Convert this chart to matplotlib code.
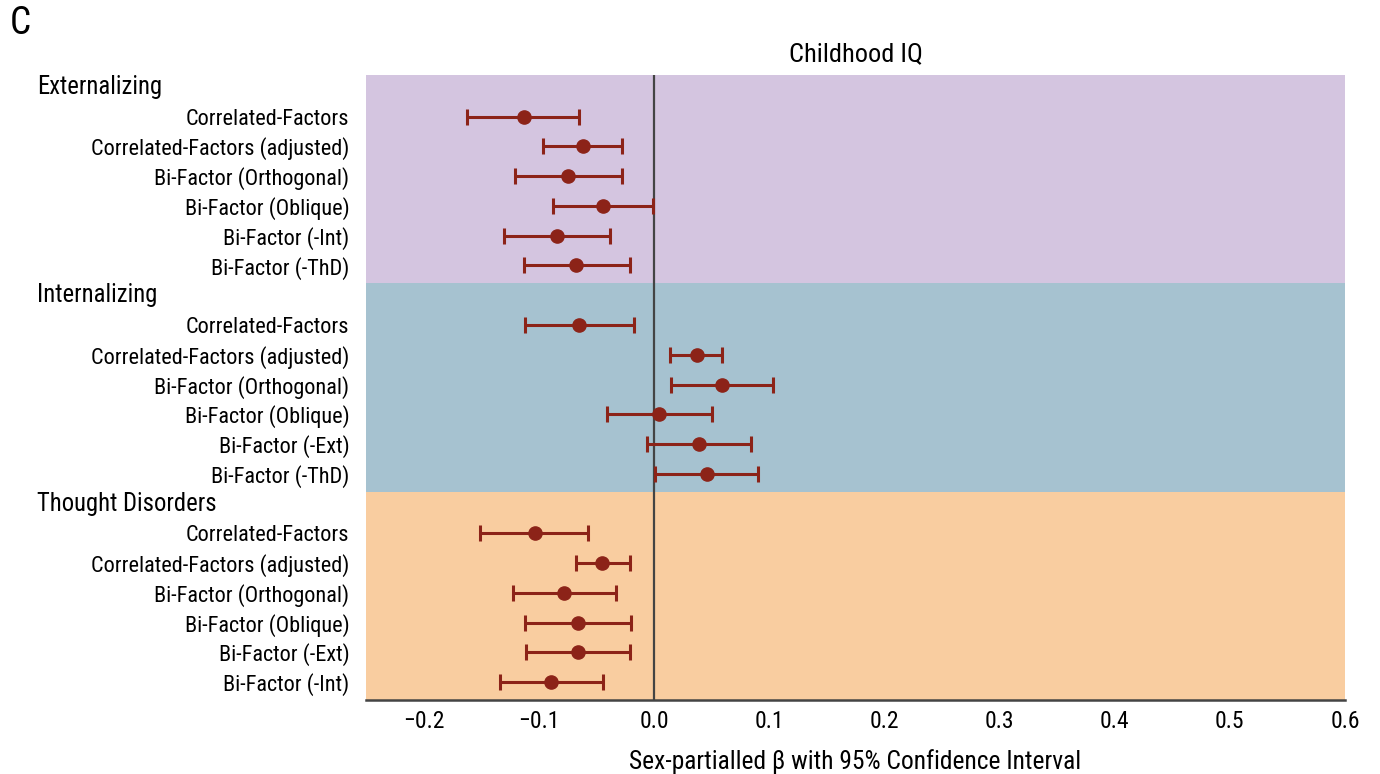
import matplotlib
matplotlib.use("Agg")
import matplotlib.pyplot as plt
import matplotlib.transforms as mtrans
import numpy as np

groups = ["Externalizing", "Internalizing", "Thought Disorders"]
group_colors = ["#D4C5E0", "#A6C2D0", "#F9CDA0"]
row_labels = [
    ["Correlated-Factors", "Correlated-Factors (adjusted)", "Bi-Factor (Orthogonal)",
     "Bi-Factor (Oblique)", "Bi-Factor (-Int)", "Bi-Factor (-ThD)"],
    ["Correlated-Factors", "Correlated-Factors (adjusted)", "Bi-Factor (Orthogonal)",
     "Bi-Factor (Oblique)", "Bi-Factor (-Ext)", "Bi-Factor (-ThD)"],
    ["Correlated-Factors", "Correlated-Factors (adjusted)", "Bi-Factor (Orthogonal)",
     "Bi-Factor (Oblique)", "Bi-Factor (-Ext)", "Bi-Factor (-Int)"],
]
est = [
    [-0.113, -0.062, -0.075, -0.044, -0.084, -0.068],
    [-0.065, 0.037, 0.059, 0.004, 0.039, 0.046],
    [-0.103, -0.045, -0.078, -0.066, -0.066, -0.089],
]
lower = [
    [-0.162, -0.096, -0.121, -0.088, -0.130, -0.113],
    [-0.112, 0.014, 0.015, -0.041, -0.006, 0.001],
    [-0.151, -0.068, -0.122, -0.112, -0.111, -0.134],
]
upper = [
    [-0.065, -0.028, -0.028, -0.001, -0.038, -0.021],
    [-0.017, 0.059, 0.103, 0.050, 0.084, 0.090],
    [-0.057, -0.021, -0.033, -0.020, -0.021, -0.044],
]
xticks = [-0.2, -0.1, 0.0, 0.1, 0.2, 0.3, 0.4, 0.5, 0.6]

FONT = ["Roboto Condensed", "Archivo Narrow", "DejaVu Sans"]
plt.rcParams["font.family"] = FONT

fig = plt.figure(figsize=(13.8, 7.74), dpi=100)
ax = fig.add_axes([366 / 1380, 1 - 700 / 774, (1345 - 366) / 1380, (700 - 75) / 774])

G = 7
red = "#8C2318"
for g in range(3):
    base = g * G
    ax.axhspan(base - 0.4, base + 6.6, color=group_colors[g], zorder=0, lw=0)
    ys = base + np.arange(1, 7)
    e = np.array(est[g]); lo = np.array(lower[g]); hi = np.array(upper[g])
    ax.errorbar(e, ys, xerr=[e - lo, hi - e], fmt="o", color=red, ecolor=red,
                elinewidth=2.2, capsize=5.5, capthick=2.2, markersize=9.5, zorder=3)

ax.axvline(0, color="#444444", lw=1.6, zorder=2)
ax.set_xlim(-0.25, 0.6)
ax.set_ylim(20.6, -0.4)

ax.set_xticks(xticks)
ax.set_xticklabels([("\u2212" if t < 0 else "") + f"{abs(t):.1f}" for t in xticks], fontsize=17)
ax.tick_params(axis="x", length=0, pad=7)

yt = []; ytl = []
for g in range(3):
    for r in range(6):
        yt.append(g * G + r + 1); ytl.append(row_labels[g][r])
ax.set_yticks(yt)
ax.set_yticklabels(ytl, fontsize=16)
ax.tick_params(axis="y", length=0, pad=12)

for s in ["top", "right", "left"]:
    ax.spines[s].set_visible(False)
ax.spines["bottom"].set_color("#444444")
ax.spines["bottom"].set_linewidth(1.8)

hdr_tr = mtrans.blended_transform_factory(fig.transFigure, ax.transData)
for g in range(3):
    ax.text(37 / 1380, g * G, groups[g], transform=hdr_tr,
            fontsize=17.7, va="center", ha="left")

ax.set_title("Childhood IQ", fontsize=19, pad=10)
ax.set_xlabel("Sex-partialled \u03b2 with 95% Confidence Interval", fontsize=18.4, labelpad=12)
fig.text(10 / 1380, 1 - 24 / 774, "C", fontsize=27, va="center", ha="left")

fig.savefig("out.png", dpi=100)
